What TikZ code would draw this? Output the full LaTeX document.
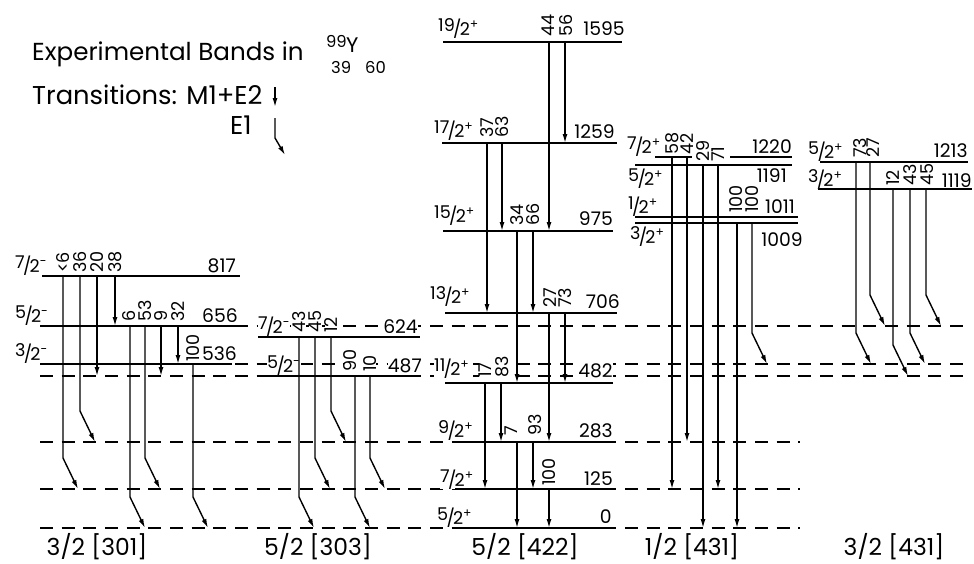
\documentclass[tikz,border=0pt]{standalone}
\usepackage{fontspec}
\setmainfont{Poppins}
\usepackage{tikz}
\usetikzlibrary{arrows.meta,calc}

\newcommand{\spin}[2]{\raisebox{0.18em}{#1}\kern-0.1em/\kern-0.1em2\textsuperscript{#2}}
\newcommand{\mtrans}[3]{\draw[trans] (#1,0 |- #2) -- (#1,0 |- #3);}
\newcommand{\etrans}[3]{\draw[trans] (#1,0 |- #2) -- ($(#1,0 |- #3)+(0,-31)$) -- ++(15,31);}

\begin{document}
\begin{tikzpicture}[x=0.3mm, y=-0.3mm,
        every node/.style ={inner sep=0pt, fill=white, font=\fontsize{16}{18}\selectfont},
        level/.style ={line width=0.6mm},
        refline/.style ={line width=0.5mm, dash pattern=on 3.9mm off 2.6mm},
        trans/.style ={line width=0.42mm, -{Latex[length=2.7mm,width=1.5mm]}},
        ratio/.style ={rotate=90, anchor=west, font=\fontsize{15}{17}\selectfont},
        spinlab/.style ={anchor=base west, font=\fontsize{15}{17}\selectfont},
        enlab/.style ={anchor=base east},
        bandlab/.style ={anchor=base, font=\fontsize{20}{22}\selectfont},
        bigtext/.style ={anchor=base west, font=\fontsize{21}{24}\selectfont},
        legtext/.style ={anchor=base west, font=\fontsize{22}{24}\selectfont},
        nucnum/.style ={font=\fontsize{14}{16}\selectfont},
    ]
\useasboundingbox (0,0) rectangle (974,563);

% Level energies (y on the page)
\foreach \e/\y in {0/528, 125/489, 283/442, 482/383, 487/376, 536/364, 624/337,
                   656/326, 706/313, 817/276, 975/231, 1009/223, 1011/217,
                   1119/189, 1191/165, 1213/162, 1220/157, 1259/143, 1595/42}
    \coordinate (e\e) at (0,\y);

% Title and legend
\node[bigtext] (title) at (32,60) {Experimental Bands in};
\node[nucnum, anchor=base east] (massno) at (347,47) {99};
\node[anchor=base west, font=\fontsize{18}{20}\selectfont] (elem) at (346,52) {Y};
\node[nucnum, anchor=base west] (protno) at (331,73) {39};
\node[nucnum, anchor=base west] (neutno) at (365,73) {60};
\node[legtext] (legmt) at (32,104) {Transitions: M1+E2};
\node[legtext] (legeone) at (230,134) {E1};
\coordinate (mtop) at (275,87);
\coordinate (mbot) at (275,107);
\coordinate (etop) at (275,118);
\coordinate (ebend) at (275,138);
\coordinate (ebot) at (285,155);
\draw[trans] (mtop) -- (mbot);
\draw[trans] (etop) -- (ebend) -- (ebot);

% Reference lines
\foreach \e in {656,536,487} \draw[refline] (40,0 |- e\e) -- (965,0 |- e\e);
\foreach \e in {283,125,0} \draw[refline] (40,0 |- e\e) -- (800,0 |- e\e);

% Spin labels
\foreach \x/\y/\j/\p [count=\i] in {15/272/7/-, 15/322/5/-, 15/360/3/-,
    258/333/7/-, 267/372/5/-,
    438/35/19/+, 434/137/17/+, 434/222/15/+, 430/303/13/+, 434/375/11/+,
    438/437/9/+, 440/486/7/+, 437/524/5/+,
    627/153/7/+, 628/185/5/+, 628/213/1/+, 630/243/3/+,
    808/158/5/+, 808/186/3/+}
    \node[spinlab] (spin\i) at (\x,\y) {\spin{\j}{\p}};

% Energy labels
\foreach \x/\y/\t [count=\i] in {236/272/817, 238/322/656, 237/360/536,
    418/333/624, 422/372/487,
    625/35/1595, 615/138/1259, 613/225/975, 620/308/706, 613/377/482,
    613/437/283, 613/485/125, 612/523/0,
    792/153/1220, 787/182/1191, 795/213/1011, 803/246/1009,
    968/157/1213, 972/187/1119}
    \node[enlab] (en\i) at (\x,\y) {\t};

% Branching ratios
\foreach \x/\y/\t [count=\i] in {63/273/<6, 80/273/36, 97/273/20, 115/273/38,
    129/322/6, 145/322/53, 161/322/9, 178/322/32, 193/362/100,
    299/333/43, 315/333/45, 331/333/12, 350/372/90, 370/372/10,
    548/37/44, 566/37/56, 487/138/37, 502/138/63, 517/226/34, 533/226/66,
    550/308/27, 565/308/73, 485/378/17, 502/378/83, 511/436/7, 535/436/93,
    549/486/100,
    672/155/58, 687/155/42, 703/162/29, 718/162/71, 736/213/100, 752/213/100,
    860/158/73, 873/158/27, 893/186/12, 910/186/43, 927/186/45}
    \node[ratio] (br\i) at (\x,\y) {\t};

% Levels
\foreach \a/\b/\e in {42/240/817, 43/237/656, 40/232/536,
    258/420/624, 265/420/487,
    443/622/1595, 442/617/1259, 443/613/975, 445/617/706, 445/613/482,
    455/613/283, 455/613/125, 455/613/0,
    655/692/1220, 730/792/1220, 635/792/1191, 635/798/1011, 635/798/1009,
    820/968/1213, 818/972/1119}
    \draw[level] (\a,0 |- e\e) -- (\b,0 |- e\e);

% M1+E2 transitions
\foreach \x/\a/\b in {97/817/487, 115/817/656, 161/656/487, 178/656/536,
    549/1595/975, 565/1595/1259, 487/1259/706, 502/1259/975, 517/975/482,
    533/975/706, 549/706/283, 565/706/482, 485/482/125, 501/482/283,
    517/283/0, 533/283/125, 549/125/0,
    672/1220/125, 687/1220/283, 703/1191/0, 718/1191/125, 737/1009/0}
    {\mtrans{\x}{e\a}{e\b}}

% E1 transitions
\foreach \x/\a/\b in {63/817/125, 80/817/283, 130/656/0, 145/656/125, 193/536/0,
    299/624/0, 315/624/125, 331/624/283, 355/487/0, 370/487/125,
    752/1009/536,
    856/1213/536, 870/1213/656, 893/1119/487, 910/1119/536, 926/1119/656}
    {\etrans{\x}{e\a}{e\b}}

% Band names
\node[bandlab] (b301) at (97,555) {3/2 [301]};
\node[bandlab] (b303) at (318,555) {5/2 [303]};
\node[bandlab] (b422) at (525,555) {5/2 [422]};
\node[bandlab] (b431a) at (692,555) {1/2 [431]};
\node[bandlab] (b431b) at (894,555) {3/2 [431]};

\end{tikzpicture}
\end{document}
